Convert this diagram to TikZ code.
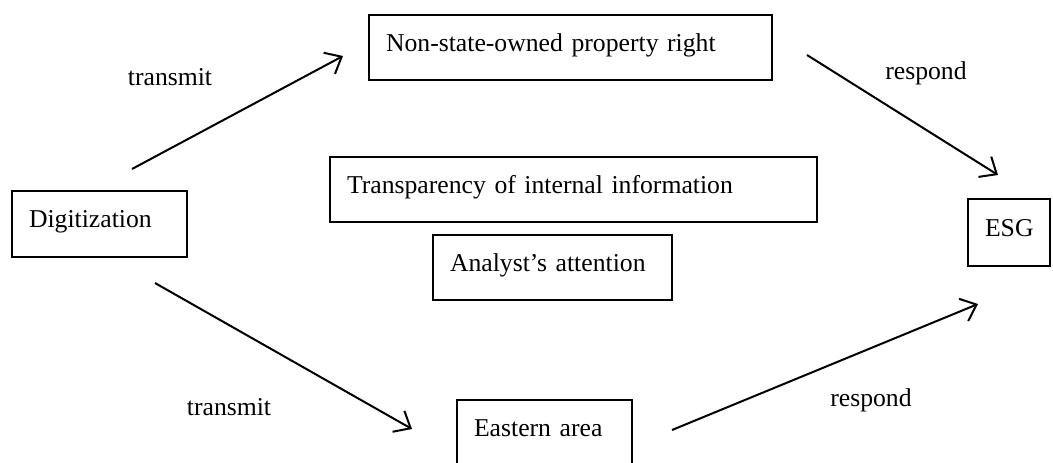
\documentclass[tikz,border=0pt]{standalone}
\usepackage{fontspec}
\setmainfont{Liberation Serif}
\usetikzlibrary{arrows.meta}
\begin{document}
\begin{tikzpicture}[x=0.5pt,y=-0.5pt,
  every node/.style={font=\fontsize{12.85}{15}\selectfont},
  box/.style={draw, line width=1pt, rectangle, inner xsep=8.5pt, inner ysep=0pt,
    align=left, text height=0.7em, text depth=0.35em},
  lbl/.style={inner sep=0pt},
  arr/.style={line width=1pt, -{Straight Barb[length=7pt,width=12pt,line width=1pt]}}]
\useasboundingbox (0,0) rectangle (1053,462);
\node[box, minimum width=87.5pt, minimum height=33pt, text width=70.5pt] (dig) at (99.5,224) {Digitization};
\node[box, minimum width=201.5pt, minimum height=32.5pt, text width=184.5pt] (nso) at (570.5,47.5) {Non-state-owned property right};
\node[box, minimum width=243.5pt, minimum height=32.5pt, text width=226.5pt] (tra) at (573.5,189.5) {Transparency of internal information};
\node[box, minimum width=119.5pt, minimum height=32.5pt, text width=102.5pt] (ana) at (552.5,267.5) {Analyst’s attention};
\node[box, minimum width=41pt, minimum height=33.5pt, text width=24pt] (esg) at (1009,232.5) {ESG};
\node[box, minimum width=87.5pt, minimum height=33pt, text width=70.5pt] (eas) at (544.5,433) {Eastern area};
\coordinate (a1s) at (132,169);
\coordinate (a1e) at (343,56);
\coordinate (a2s) at (807,55);
\coordinate (a2e) at (998,175);
\coordinate (a3s) at (155,283);
\coordinate (a3e) at (412,429);
\coordinate (a4s) at (672,430);
\coordinate (a4e) at (978,304);
\draw[arr] (a1s) -- (a1e);
\draw[arr] (a2s) -- (a2e);
\draw[arr] (a3s) -- (a3e);
\draw[arr] (a4s) -- (a4e);
\node[lbl] (t1) at (170,77) {transmit};
\node[lbl] (r1) at (926,73) {respond};
\node[lbl] (t2) at (229,407) {transmit};
\node[lbl] (r2) at (871,400) {respond};
\end{tikzpicture}
\end{document}
